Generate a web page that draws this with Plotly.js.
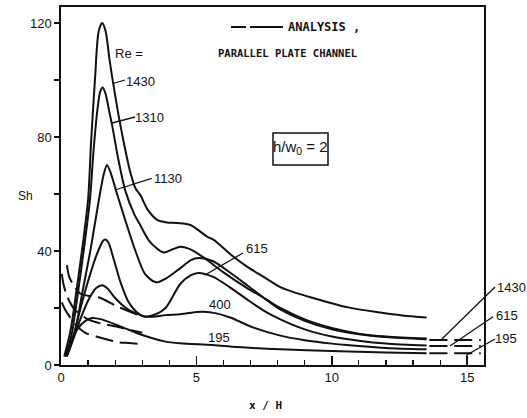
<!DOCTYPE html>
<html><head><meta charset="utf-8">
<script src="https://cdn.plot.ly/plotly-3.0.1.min.js"></script>
<style>html,body{margin:0;padding:0;background:#fff}#chart{width:527px;height:418px}</style>
</head><body><div id="chart"></div>
<script>
// ---- Experimental (solid) curves, Sh vs x/H ----
const exp1430_x = [0.12,0.35,0.6,0.8,1.0,1.11,1.26,1.39,1.52,1.65,1.78,1.89,2.1,2.32,2.55,2.75,2.93,3.2,3.55,3.9,4.3,4.78,5.4,5.64,6.3,6.87,7.5,8.1,8.7,9.32,10.56,11.79,12.6,13.5];
const exp1430_y = [3,12,28,42,58,78,101,117,120,117,108,101,89,78,68,62,59.6,54.5,50.9,50,49.8,49.1,45,43.9,38.5,34.5,30.8,27.3,25.2,23.5,20.3,18.4,17.4,16.7];
const exp1310_x = [0.18,0.4,0.65,0.85,1.07,1.2,1.35,1.45,1.54,1.65,1.78,1.89,2.1,2.38,2.7,2.93,3.3,3.79,4.1,4.41,4.8,5.3,6.0,6.87,7.5,8.1,9.0,10.0,11.0,12.0,13.5];
const exp1310_y = [3,11,27,41,58,75,90,96,97.4,95,89,84,73,61,53,49,43,39.5,40.5,41.5,40.5,37.5,32.5,27,23.5,20,16,13,11,10,9.3];
const exp1130_x = [0.22,0.5,0.8,1.1,1.4,1.58,1.70,1.85,2.07,2.4,2.75,3.1,3.5,3.9,4.41,4.8,5.07,5.6,6.3,6.87,7.5,8.1,9.0,10.0,11.0,12.0,13.5];
const exp1130_y = [3,11,26,41,58,67,70.2,67,60,50,40,32,29,30.5,34,36.8,37.5,36.5,32,28,23.5,19.5,15.5,12.5,10.8,9.8,9.0];
const exp615_x = [0.2,0.45,0.75,1.05,1.35,1.55,1.64,1.75,1.95,2.2,2.5,2.8,3.08,3.5,3.86,4.41,4.8,5.07,5.6,6.2,6.87,7.5,8.1,9.0,10.0,11.0,12.0,13.5];
const exp615_y = [3,10,21,31,39.5,43.5,44,43,37,29,22,18.5,17,17.8,20,28.5,31.5,32.3,31,27.5,23,19,16,12.5,10,8.5,7.5,6.8];
const exp400_x = [0.2,0.45,0.75,1.05,1.3,1.52,1.7,2.0,2.4,2.75,3.1,3.5,3.86,4.41,5.0,5.26,5.7,6.3,7.0,8.1,9.0,10.0,10.56,12.0,13.5];
const exp400_y = [3,9,17,23.5,27,28,27,23.5,20,18.2,17,17,17.5,17.8,18.6,18.7,18.2,16.5,13.5,10.3,8.7,7.5,7,6,5.5];
const exp195_x = [0.15,0.35,0.6,0.9,1.15,1.5,2.26,3.0,3.86,4.41,5.6,6.5,8.1,10.0,12.0,13.5];
const exp195_y = [3,8,12.5,15.5,16.5,16,13.3,10.5,8.2,7.6,7,6.3,5.5,4.9,4.4,4.1];

// ---- Analysis (dashed), parallel plate channel ----
const ana1430_x = [0.22,0.3,0.5,0.72,1.0,1.46,2.08,2.6,3.0,null,13.6,14.5,15.5];
const ana1430_y = [35,31,27.5,25,24.3,23.5,20.5,18.5,17,null,8.8,8.8,8.8];
const ana615_x = [0.03,0.1,0.23,0.5,1.0,1.5,2.08,2.6,3.0,null,13.6,14.5,15.5];
const ana615_y = [32,28,24,19.5,16,14.5,13.4,12.2,11.3,null,6.7,6.7,6.7];
const ana195_x = [0.03,0.15,0.28,0.55,0.9,1.3,1.64,2.1,2.5,2.9,null,13.6,14.5,15.5];
const ana195_y = [22,19.5,17.5,14,11.3,10,9.1,8,7.7,7.4,null,4.1,4.1,4.1];

const xTickVals = [0,5,10,15];
const yTickVals = [0,40,80,120];
const leftLabels = ['Re =','1430','1310','1130','615','400','195'];
const rightLabels = ['1430','615','195'];

// ---- geometry helpers (pixel -> paper) ----
const L = 61, R = 484, T = 7, B = 365;
const px = v => (v - L) / (R - L);
const py = v => (B - v) / (B - T);
const FONT = 'Liberation Sans, Arial, sans-serif';
const MONO = 'DejaVu Sans Mono, Liberation Mono, monospace';

const solid = (x, y) => ({x, y, type:'scatter', mode:'lines',
  line:{color:'#111', width:2, shape:'spline', smoothing:0.8}, hoverinfo:'skip'});
const dashed = (x, y) => ({x, y, type:'scatter', mode:'lines', connectgaps:false,
  line:{color:'#111', width:2, dash:'18px,7px', shape:'spline', smoothing:0.8}, hoverinfo:'skip'});

const data = [
  dashed(ana1430_x, ana1430_y), dashed(ana615_x, ana615_y), dashed(ana195_x, ana195_y),
  solid(exp1430_x, exp1430_y), solid(exp1310_x, exp1310_y), solid(exp1130_x, exp1130_y),
  solid(exp615_x, exp615_y), solid(exp400_x, exp400_y), solid(exp195_x, exp195_y)
];

const txt = (t, x, y, size, extra, fam) => Object.assign({text:t, xref:'paper', yref:'paper', x:px(x), y:py(y),
  xanchor:'center', yanchor:'middle', showarrow:false, font:{family:fam||FONT, size:size, color:'#111'}}, extra||{});

const leftPos = [[128.5,54],[140,81.5],[149,117.5],[167.5,178],[257,248.5],[220,304],[219,337.5]];
const rightPos = [[511,287],[507,315],[506,338]];
const ann = [];
leftLabels.forEach((t,i)=>ann.push(txt(t, leftPos[i][0], leftPos[i][1], 13)));
rightLabels.forEach((t,i)=>ann.push(txt(t, rightPos[i][0], rightPos[i][1], 13)));
ann.push(txt('<b>ANALYSIS ,</b>', 286, 27, 12, {xanchor:'left'}, MONO));
ann.push(txt('<b>PARALLEL PLATE CHANNEL</b>', 287.5, 53, 10.5, null, MONO));
ann.push(txt('h/w<sub>0</sub> = 2', 300.5, 148, 15));
ann.push(txt('Sh', 25, 196, 12));
ann.push(txt('<b>x / H</b>', 265, 405, 11, null, MONO));

const seg = (x0,y0,x1,y1,w,dash) => ({type:'line', xref:'paper', yref:'paper',
  x0:px(x0), y0:py(y0), x1:px(x1), y1:py(y1), line:{color:'#111', width:w||1.3, dash:dash||'solid'}});
const shapes = [
  seg(231,27,246,27,2), seg(250,27,283,27,2),
  {type:'rect', xref:'paper', yref:'paper', x0:px(273), y0:py(133), x1:px(328), y1:py(165), line:{color:'#111', width:1.5}},
  seg(113,83.5,125,80), seg(112,123,135,117), seg(115,190,151.7,178.3), seg(205,275,243,253),
  seg(441.7,339.3,495,287), seg(450,346,493,316.7), seg(466.7,355,495,339), seg(466.7,355,466.7,365)
];

const layout = {
  width:527, height:418, margin:{l:L, r:527-R, t:T, b:418-B, pad:0},
  paper_bgcolor:'#fff', plot_bgcolor:'#fff', showlegend:false,
  font:{family:FONT, color:'#111'},
  xaxis:{range:[0,15.62], tickmode:'array', tickvals:xTickVals, ticks:'inside', ticklen:9, tickwidth:1.4, tickcolor:'#111',
    showline:true, linewidth:1.6, linecolor:'#111', mirror:true, showgrid:false, zeroline:false,
    tickfont:{family:FONT, size:13, color:'#111'},
    minor:{tickmode:'linear', tick0:0, dtick:1, ticks:'inside', ticklen:5, tickwidth:1.2, tickcolor:'#111', showgrid:false}},
  yaxis:{range:[0,125.6], tickmode:'array', tickvals:yTickVals, ticks:'outside', ticklen:5, tickwidth:1.4, tickcolor:'#111',
    showline:true, linewidth:1.6, linecolor:'#111', mirror:true, showgrid:false, zeroline:false,
    tickfont:{family:FONT, size:13, color:'#111'},
    minor:{tickmode:'linear', tick0:0, dtick:20, ticks:'outside', ticklen:5, tickwidth:1.2, tickcolor:'#111', showgrid:false}},
  annotations:ann, shapes:shapes
};
Plotly.newPlot('chart', data, layout, {staticPlot:true, displayModeBar:false});
</script></body></html>
